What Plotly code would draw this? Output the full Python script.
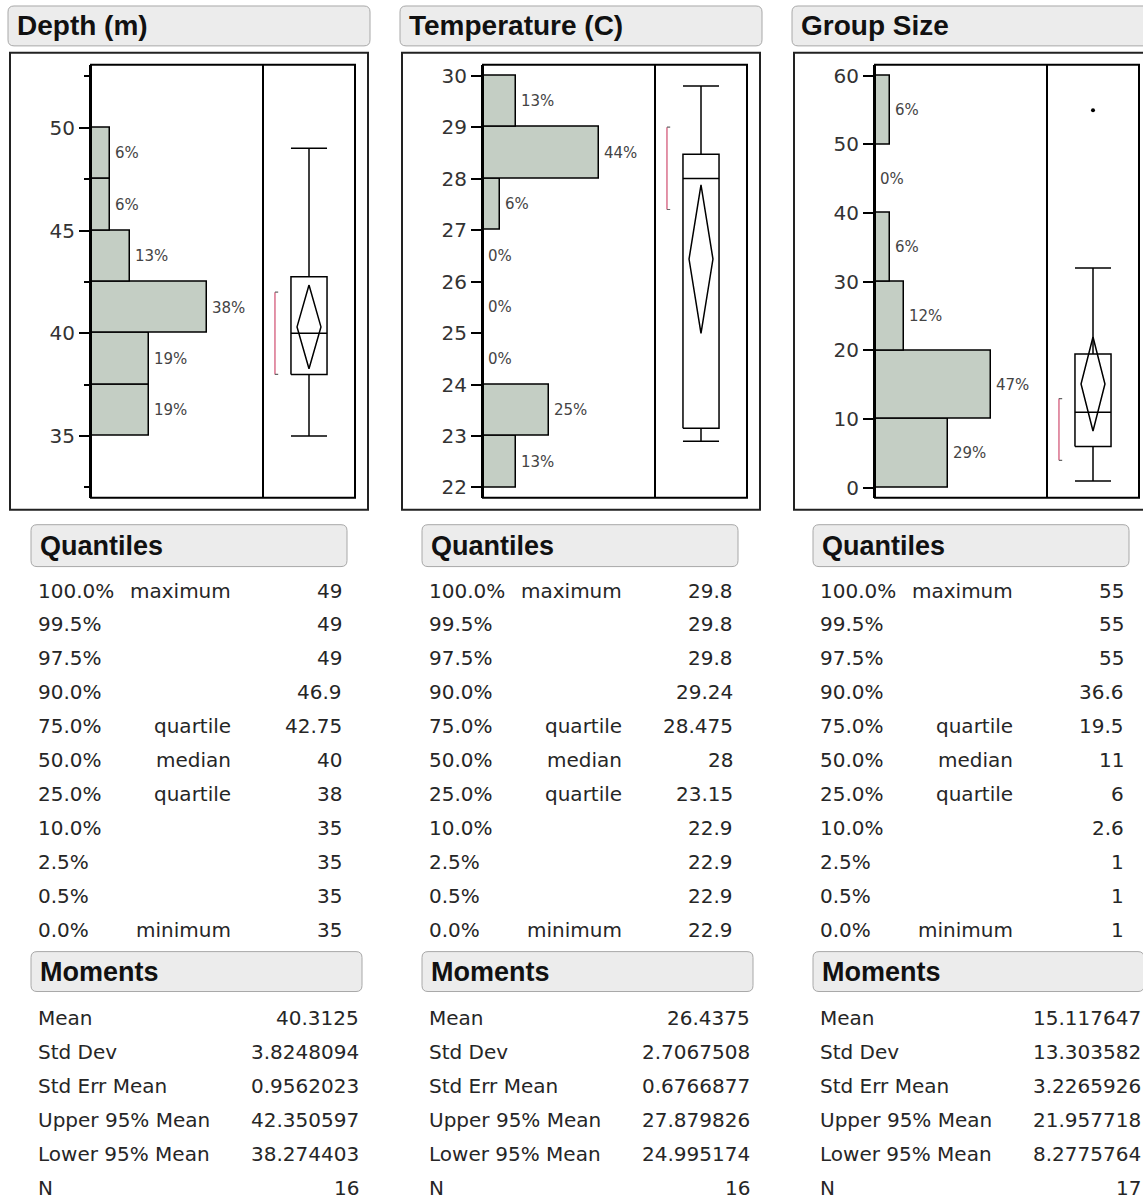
import plotly.graph_objects as go

W, H = 1143, 1203

# ---------------- data ----------------
titles = ["Depth (m)", "Temperature (C)", "Group Size"]

depth_edges = [35, 37.5, 40, 42.5, 45, 47.5, 50]
depth_counts = [3, 3, 6, 2, 1, 1]
temp_edges = [22, 23, 24, 25, 26, 27, 28, 29, 30]
temp_counts = [2, 4, 0, 0, 0, 1, 7, 2]
group_edges = [0, 10, 20, 30, 40, 50, 60]
group_counts = [5, 8, 2, 1, 0, 1]

quantile_pcts = ["100.0%", "99.5%", "97.5%", "90.0%", "75.0%", "50.0%",
                 "25.0%", "10.0%", "2.5%", "0.5%", "0.0%"]
quantile_names = ["maximum", "", "", "", "quartile", "median", "quartile",
                  "", "", "", "minimum"]
depth_quantiles = [49, 49, 49, 46.9, 42.75, 40, 38, 35, 35, 35, 35]
temp_quantiles = [29.8, 29.8, 29.8, 29.24, 28.475, 28, 23.15, 22.9, 22.9, 22.9, 22.9]
group_quantiles = [55, 55, 55, 36.6, 19.5, 11, 6, 2.6, 1, 1, 1]

moment_names = ["Mean", "Std Dev", "Std Err Mean", "Upper 95% Mean",
                "Lower 95% Mean", "N"]
depth_moments = [40.3125, 3.8248094, 0.9562023, 42.350597, 38.274403, 16]
temp_moments = [26.4375, 2.7067508, 0.6766877, 27.879826, 24.995174, 16]
group_moments = [15.117647, 13.303582, 3.2265926, 21.957718, 8.2775764, 17]

whisker_low = [35, 22.9, 1]
whisker_high = [49, 29.8, 32]
outlier_values = [[], [], [55]]
shortest_half = [[38, 42], [27.4, 29], [4, 13]]

edges_all = [depth_edges, temp_edges, group_edges]
counts_all = [depth_counts, temp_counts, group_counts]
quant_all = [depth_quantiles, temp_quantiles, group_quantiles]
mom_all = [depth_moments, temp_moments, group_moments]

# ---------------- layout helpers ----------------
def X(px):
    return px / W

def Y(py):
    return 1 - py / H

TXT = "#262626"
FONT = "DejaVu Sans"
BOLD = "Liberation Sans, Arial"

y_ranges = [[32.0, 53.06], [21.8, 30.21], [-1.45, 61.6]]
major_dt = [5, 1, 10]
minor_dt = [2.5, None, None]

fig = go.Figure()
shapes = []
annotations = []
layout_axes = {}


def rrect(x0, y0, x1, y1, r=6, fill="#ececec", line="#a8a8a8"):
    xs = lambda v: X(v)
    ys = lambda v: Y(v)
    p = (f"M {xs(x0 + r)},{ys(y0)} L {xs(x1 - r)},{ys(y0)} "
         f"Q {xs(x1)},{ys(y0)} {xs(x1)},{ys(y0 + r)} "
         f"L {xs(x1)},{ys(y1 - r)} Q {xs(x1)},{ys(y1)} {xs(x1 - r)},{ys(y1)} "
         f"L {xs(x0 + r)},{ys(y1)} Q {xs(x0)},{ys(y1)} {xs(x0)},{ys(y1 - r)} "
         f"L {xs(x0)},{ys(y0 + r)} Q {xs(x0)},{ys(y0)} {xs(x0 + r)},{ys(y0)} Z")
    return dict(type="path", path=p, xref="paper", yref="paper",
                fillcolor=fill, line=dict(color=line, width=1), layer="below")


def rect(x0, y0, x1, y1, color="black", width=2):
    return dict(type="rect", xref="paper", yref="paper",
                x0=X(x0), x1=X(x1), y0=Y(y1), y1=Y(y0),
                line=dict(color=color, width=width), fillcolor="rgba(0,0,0,0)")


def vline(x, y0, y1, color="black", width=2):
    return dict(type="line", xref="paper", yref="paper",
                x0=X(x), x1=X(x), y0=Y(y1), y1=Y(y0),
                line=dict(color=color, width=width))


def text(x, y, s, size=20, font=FONT, color=TXT, anchor="left", bold=False):
    annotations.append(dict(
        x=X(x), y=Y(y), xref="paper", yref="paper", text=f"<b>{s}</b>" if bold else s,
        showarrow=False, xanchor=anchor, yanchor="middle",
        font=dict(family=font, size=size, color=color)))


for k in range(3):
    dx = 392 * k
    dt = 391 * k
    inner_l, divider, inner_r = 91 + dx, 263 + dx, 355 + dx
    top, bot = 64, 498

    # header & frames
    shapes.append(rrect(8 + dx, 5, 370 + dx, 45))
    text(15 + dx, 25, titles[k], size=28, font=BOLD, color="#111", bold=True)
    shapes.append(rect(10 + dx, 52, 368 + dx, 510, color="#222", width=2))
    shapes.append(rect(inner_l, top, inner_r, bot, color="black", width=2))
    shapes.append(vline(divider, top, bot, color="black", width=2))

    xa_h = f"x{2 * k + 1}"
    ya_h = f"y{2 * k + 1}"
    xa_b = f"x{2 * k + 2}"
    ya_b = f"y{2 * k + 2}"

    edges = edges_all[k]
    counts = counts_all[k]
    n = sum(counts)
    props = [c / n for c in counts]
    centers = [(edges[i] + edges[i + 1]) / 2 for i in range(len(counts))]
    widths = [edges[i + 1] - edges[i] for i in range(len(counts))]
    xmax = max(props) * (divider - inner_l) / 116.0

    fig.add_trace(go.Bar(
        orientation="h", y=centers, x=props, width=widths,
        marker=dict(color="#c4cec4", line=dict(color="black", width=1.5)),
        xaxis=xa_h, yaxis=ya_h, hoverinfo="skip", showlegend=False))

    for p, c in zip(props, centers):
        annotations.append(dict(
            x=p, y=c, xref=xa_h, yref=ya_h, text=f"{int(p * 100 + 0.5)}%",
            showarrow=False, xanchor="left", yanchor="middle", xshift=3,
            font=dict(family=FONT, size=15, color="#444")))

    yax = dict(domain=[Y(bot), Y(top)], range=y_ranges[k], anchor=xa_h,
               showgrid=False, zeroline=False, showline=True, linecolor="black",
               linewidth=2, ticks="outside", ticklen=10, tickwidth=1.5,
               tickcolor="black", dtick=major_dt[k], tick0=0,
               tickfont=dict(family=FONT, size=20, color="#333"))
    if minor_dt[k]:
        yax["minor"] = dict(dtick=minor_dt[k], tick0=0, ticks="outside",
                            ticklen=5, tickwidth=1.5, tickcolor="black",
                            showgrid=False)
    layout_axes[f"yaxis{2 * k + 1}"] = yax
    layout_axes[f"xaxis{2 * k + 1}"] = dict(
        domain=[X(inner_l), X(divider)], range=[0, xmax], anchor=ya_h,
        visible=False, fixedrange=True)
    layout_axes[f"xaxis{2 * k + 2}"] = dict(
        domain=[X(divider), X(inner_r)], range=[0, 1], anchor=ya_b,
        visible=False, fixedrange=True)
    layout_axes[f"yaxis{2 * k + 2}"] = dict(
        domain=[Y(bot), Y(top)], range=y_ranges[k], anchor=xa_b,
        visible=False, fixedrange=True)

    # ---- outlier box plot ----
    q = quant_all[k]
    m = mom_all[k]
    q3, med, q1 = q[4], q[5], q[6]
    lo, hi = whisker_low[k], whisker_high[k]
    mean, ucl, lcl = m[0], m[3], m[4]
    bl, br, bc = 0.304, 0.696, 0.5
    dw = 0.13
    bx = [bl, br, br, bl, bl, None, bl, br, None,
          bc, bc, None, bl, br, None, bc, bc, None, bl, br, None,
          bc, bc + dw, bc, bc - dw, bc]
    by = [q1, q1, q3, q3, q1, None, med, med, None,
          q3, hi, None, hi, hi, None, q1, lo, None, lo, lo, None,
          ucl, mean, lcl, mean, ucl]
    fig.add_trace(go.Scatter(x=bx, y=by, mode="lines",
                             line=dict(color="black", width=1.5),
                             xaxis=xa_b, yaxis=ya_b, hoverinfo="skip",
                             showlegend=False))
    s_lo, s_hi = shortest_half[k]
    fig.add_trace(go.Scatter(x=[0.13, 0.13], y=[s_lo, s_hi], mode="lines",
                             line=dict(color="#d9708c", width=1.5),
                             xaxis=xa_b, yaxis=ya_b, hoverinfo="skip",
                             showlegend=False))
    fig.add_trace(go.Scatter(x=[0.13, 0.165, None, 0.13, 0.165],
                             y=[s_lo, s_lo, None, s_hi, s_hi], mode="lines",
                             line=dict(color="#666", width=1.2),
                             xaxis=xa_b, yaxis=ya_b, hoverinfo="skip",
                             showlegend=False))
    if outlier_values[k]:
        fig.add_trace(go.Scatter(x=[bc] * len(outlier_values[k]),
                                 y=outlier_values[k], mode="markers",
                                 marker=dict(color="black", size=4),
                                 xaxis=xa_b, yaxis=ya_b, hoverinfo="skip",
                                 showlegend=False))

    # ---- Quantiles table ----
    shapes.append(rrect(31 + dt, 525, 347 + dt, 567))
    text(38 + dt, 546, "Quantiles", size=27, font=BOLD, color="#111", bold=True)
    for i, (pc, nm, v) in enumerate(zip(quantile_pcts, quantile_names, q)):
        yy = 591 + 34 * i
        text(36 + dt, yy, pc)
        if nm:
            text(233 + dt, yy, nm, anchor="right")
        text(344 + dt, yy, f"{v:.8g}", anchor="right")

    # ---- Moments table ----
    shapes.append(rrect(31 + dt, 953, 362 + dt, 993))
    text(38 + dt, 973, "Moments", size=27, font=BOLD, color="#111", bold=True)
    for i, (nm, v) in enumerate(zip(moment_names, m)):
        yy = 1020 + 34 * i
        text(36 + dt, yy, nm)
        text(361 + dt, yy, f"{v:.8g}", anchor="right")

fig.update_layout(
    width=W, height=H, margin=dict(l=0, r=0, t=0, b=0),
    paper_bgcolor="white", plot_bgcolor="white",
    shapes=shapes, annotations=annotations, showlegend=False,
    bargap=0, **layout_axes)

fig.write_html("out.html", config={"displayModeBar": False},
               post_script="document.body.style.margin='0';document.body.style.padding='0';document.body.style.overflow='hidden';")
